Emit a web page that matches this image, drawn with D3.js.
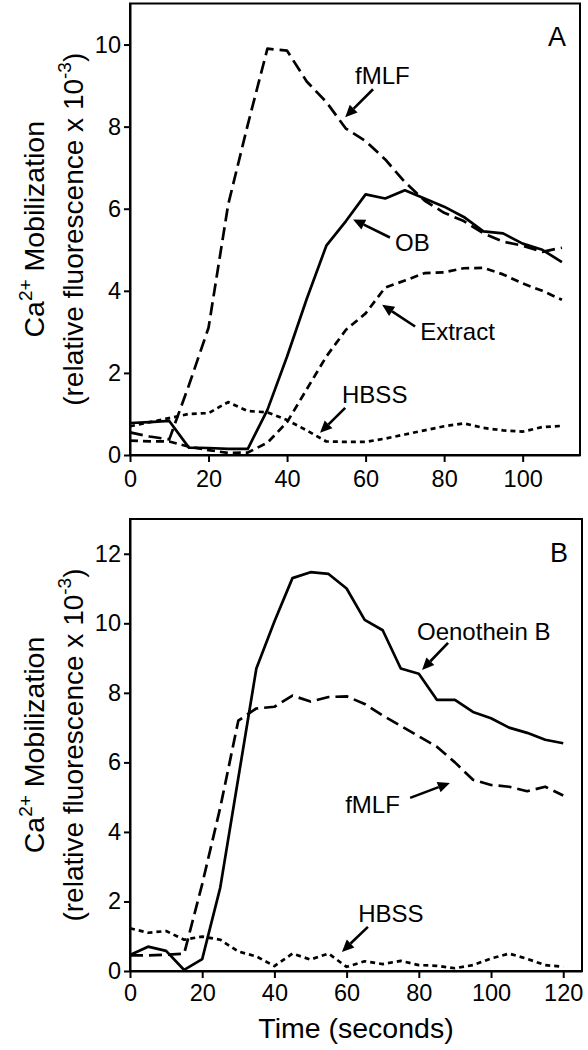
<!DOCTYPE html>
<html>
<head>
<meta charset="utf-8">
<script src="https://cdn.jsdelivr.net/npm/d3@7"></script>
<style>
  html, body { margin: 0; padding: 0; background: #fff; }
  svg { display: block; font-family: "Liberation Sans", Arial, sans-serif; }
</style>
</head>
<body>
<svg id="chart" width="588" height="1050"></svg>
<script>
// ---------- DATA ----------
const timeA = [0,5,10,15,20,25,30,35,40,45,50,55,60,65,70,75,80,85,90,95,100,105,110];
const fmlfA    = [0.55,0.45,0.38,1.7,3.1,6.1,8.05,9.9,9.85,9.1,8.6,7.95,7.65,7.2,6.65,6.2,5.9,5.7,5.4,5.2,5.1,4.95,5.05];
const obA      = [0.78,0.8,0.83,0.18,0.17,0.15,0.15,1.1,2.4,3.8,5.1,5.7,6.35,6.25,6.45,6.25,6.05,5.8,5.45,5.4,5.15,5.0,4.7];
const extractA = [0.35,0.33,0.33,0.2,0.12,0.05,0.06,0.3,0.8,1.6,2.4,3.05,3.45,4.08,4.25,4.43,4.45,4.55,4.56,4.4,4.18,4.0,3.78];
const hbssA    = [0.7,0.8,0.9,1.0,1.02,1.29,1.07,1.04,0.85,0.6,0.33,0.32,0.32,0.4,0.5,0.6,0.7,0.77,0.66,0.6,0.57,0.68,0.71];

const timeB = [0,5,10,15,20,25,30,35,40,45,50,55,60,65,70,75,80,85,90,95,100,105,110,115,120];
const oenoB = [0.46,0.7,0.58,0.03,0.34,2.4,5.55,8.7,10.05,11.3,11.47,11.42,11.0,10.1,9.8,8.7,8.55,7.8,7.8,7.45,7.27,7.0,6.85,6.65,6.55];
const fmlfB = [0.45,0.45,0.47,0.5,2.5,4.7,7.2,7.55,7.6,7.92,7.75,7.88,7.9,7.68,7.35,7.05,6.75,6.45,6.0,5.5,5.35,5.3,5.17,5.3,5.05];
const hbssB = [1.23,1.1,1.15,0.9,0.99,0.9,0.56,0.42,0.14,0.5,0.33,0.5,0.12,0.28,0.2,0.29,0.17,0.15,0.08,0.17,0.36,0.5,0.35,0.17,0.12];

const xTicksA = [0,20,40,60,80,100];
const yTicksA = [0,2,4,6,8,10];
const xTicksB = [0,20,40,60,80,100,120];
const yTicksB = [0,2,4,6,8,10,12];

// annotation anchors in data units: [label, textT, textV, arrowFromT, arrowFromV, arrowToT, arrowToV]
const annotA = [
  ["fMLF",    57.3, 9.04, 61.9, 8.91, 54.8, 8.23],
  ["OB",      67.5, 4.96, 66.2, 5.30, 56.8, 5.74],
  ["Extract", 73.9, 2.81, 72.6, 3.13, 64.2, 3.66],
  ["HBSS",    54.0, 1.27, 54.8, 1.15, 48.4, 0.54]
];
const annotB = [
  ["Oenothein B", 79.5, 9.53, 88.1, 9.44, 80.9, 8.66],
  ["fMLF",        59.6, 4.55, 77.6, 4.98, 88.6, 5.41],
  ["HBSS",        63.2, 1.41, 65.9, 1.27, 58.7, 0.55]
];

// ---------- DRAW ----------
const svg = d3.select("#chart");

function panel(cfg) {
  const x = d3.scaleLinear().domain(cfg.xDomain).range([cfg.left, cfg.right]);
  const y = d3.scaleLinear().domain(cfg.yDomain).range([cfg.bottom, cfg.top]);
  const g = svg.append("g");

  g.append("rect")
    .attr("x", cfg.left).attr("y", cfg.top)
    .attr("width", cfg.right - cfg.left).attr("height", cfg.bottom - cfg.top)
    .attr("fill", "none").attr("stroke", "#000").attr("stroke-width", 2);

  const xAxis = g.append("g").attr("transform", `translate(0,${cfg.bottom})`)
    .call(d3.axisBottom(x).tickValues(cfg.xTicks).tickSize(7).tickPadding(cfg.xPad).tickSizeOuter(0));
  const yAxis = g.append("g").attr("transform", `translate(${cfg.left},0)`)
    .call(d3.axisLeft(y).tickValues(cfg.yTicks).tickSize(6).tickPadding(3).tickSizeOuter(0));
  [xAxis, yAxis].forEach(a => {
    a.select(".domain").attr("stroke-width", 2);
    a.selectAll(".tick line").attr("stroke-width", 2);
    a.selectAll("text").attr("font-size", 23.5).attr("fill", "#000")
      .attr("font-family", '"Liberation Sans", Arial, sans-serif');
  });

  const line = d3.line().x(d => x(d[0])).y(d => y(d[1]));
  cfg.series.forEach(s => {
    g.append("path")
      .datum(cfg.time.map((t, i) => [t, s.values[i]]))
      .attr("d", line)
      .attr("fill", "none").attr("stroke", "#000")
      .attr("stroke-width", 2.7)
      .attr("stroke-linejoin", "round")
      .attr("stroke-dasharray", s.dash);
  });

  cfg.annot.forEach(a => {
    const [label, tt, tv, ft, fv, at, av] = a;
    g.append("text").attr("x", x(tt)).attr("y", y(tv))
      .attr("font-size", 24).text(label);
    const x1 = x(ft), y1 = y(fv), x2 = x(at), y2 = y(av);
    const ang = Math.atan2(y2 - y1, x2 - x1);
    const L = 12, W = 5.5;
    const bx = x2 - L * Math.cos(ang), by = y2 - L * Math.sin(ang);
    g.append("line").attr("x1", x1).attr("y1", y1).attr("x2", bx).attr("y2", by)
      .attr("stroke", "#000").attr("stroke-width", 2.6);
    const px = -Math.sin(ang), py = Math.cos(ang);
    g.append("polygon")
      .attr("points", [[x2, y2], [bx + W * px, by + W * py], [bx - W * px, by - W * py]].map(p => p.join(",")).join(" "))
      .attr("fill", "#000");
  });

  g.append("text").attr("x", cfg.right - 32).attr("y", cfg.top + cfg.letterDy)
    .attr("font-size", 27).text(cfg.letter);

  const cy = (cfg.top + cfg.bottom) / 2;
  const t1 = g.append("text").attr("transform", `translate(44,${cy}) rotate(-90)`)
    .attr("text-anchor", "middle").attr("font-size", 28.5);
  t1.append("tspan").text("Ca");
  t1.append("tspan").attr("font-size", 19).attr("dy", -12).text("2+");
  t1.append("tspan").attr("dy", 12).text(" Mobilization");
  const t2 = g.append("text").attr("transform", `translate(83,${cy}) rotate(-90)`)
    .attr("text-anchor", "middle").attr("font-size", 28);
  t2.append("tspan").text("(relative fluorescence x 10");
  t2.append("tspan").attr("font-size", 19).attr("dy", -12).text("-3");
  t2.append("tspan").attr("dy", 12).text(")");
  return {x, y};
}

panel({
  left: 130, right: 580, top: 3.5, bottom: 455,
  xDomain: [0, 114.6], yDomain: [0, 11],
  xTicks: xTicksA, yTicks: yTicksA, xPad: 8,
  time: timeA,
  series: [
    {values: fmlfA, dash: "13,6"},
    {values: obA, dash: null},
    {values: extractA, dash: "8,5"},
    {values: hbssA, dash: "5,4"}
  ],
  annot: annotA, letter: "A", letterDy: 42
});

panel({
  left: 130, right: 582, top: 519, bottom: 971,
  xDomain: [0, 125.2], yDomain: [0, 13],
  xTicks: xTicksB, yTicks: yTicksB, xPad: 6,
  time: timeB,
  series: [
    {values: oenoB, dash: null},
    {values: fmlfB, dash: "13,6"},
    {values: hbssB, dash: "5,4"}
  ],
  annot: annotB, letter: "B", letterDy: 43
});

svg.append("text").attr("x", 356).attr("y", 1038).attr("text-anchor", "middle")
  .attr("font-size", 28.5).text("Time (seconds)");
</script>
</body>
</html>
